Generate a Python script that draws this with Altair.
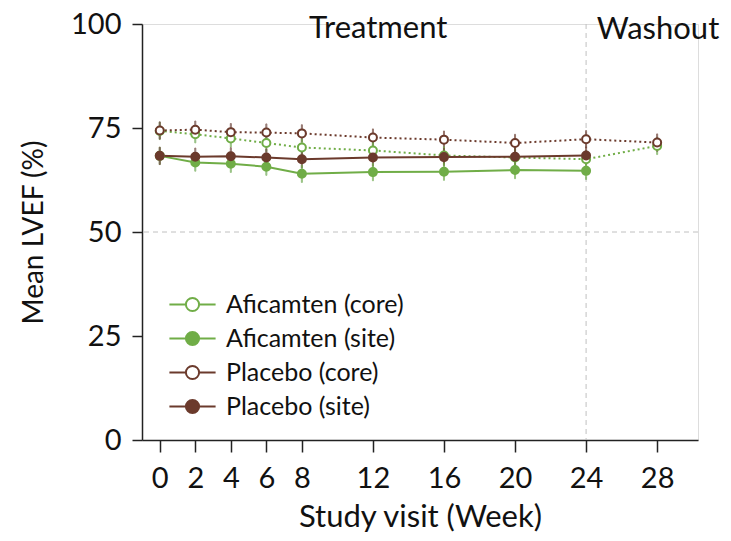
import altair as alt
import pandas as pd

weeks_all = [0, 2, 4, 6, 8, 12, 16, 20, 24, 28]
weeks_site = [0, 2, 4, 6, 8, 12, 16, 20, 24]

afi_core = [74.3, 73.5, 72.5, 71.4, 70.3, 69.6, 68.4, 67.9, 67.5, 70.7]
afi_core_err = [1.0, 1.0, 1.0, 1.0, 1.0, 1.0, 1.0, 1.0, 1.0, 1.0]
afi_site = [68.3, 66.7, 66.4, 65.7, 64.0, 64.4, 64.5, 64.9, 64.7]
afi_site_err = [1.0, 1.0, 1.0, 1.0, 1.0, 1.0, 1.0, 1.0, 1.0]
pla_core = [74.4, 74.6, 74.0, 73.9, 73.7, 72.7, 72.2, 71.4, 72.3, 71.5]
pla_core_err = [1.0, 1.0, 1.0, 1.0, 1.0, 1.0, 1.0, 1.0, 1.0, 1.0]
pla_site = [68.3, 68.1, 68.2, 67.9, 67.5, 67.9, 68.0, 68.1, 68.4]
pla_site_err = [1.0, 1.0, 1.0, 1.0, 1.0, 1.0, 1.0, 1.0, 1.0]

series_names = ["Aficamten (core)", "Aficamten (site)", "Placebo (core)", "Placebo (site)"]
series_kind = ["core", "site", "core", "site"]
stroke_colors = ["#70AD47", "#70AD47", "#6B3A2C", "#6B3A2C"]
fill_colors = ["#ffffff", "#70AD47", "#ffffff", "#6B3A2C"]

phase_labels = ["Treatment", "Washout"]
phase_x = [12.3, 28.05]
phase_y = [98.8, 98.5]

ref_y = [50]
ref_x = [24]

rows = []
for name, kind, wk, vals, errs in [
    (series_names[0], series_kind[0], weeks_all, afi_core, afi_core_err),
    (series_names[1], series_kind[1], weeks_site, afi_site, afi_site_err),
    (series_names[2], series_kind[2], weeks_all, pla_core, pla_core_err),
    (series_names[3], series_kind[3], weeks_site, pla_site, pla_site_err),
]:
    for w, v, e in zip(wk, vals, errs):
        rows.append({"series": name, "kind": kind, "week": w, "value": v,
                     "lo": v - e, "hi": v + e})
df = pd.DataFrame(rows)

FONT = "Lato"
GREY = "#c0c0c0"
INK = "#111111"

xscale = alt.Scale(domain=[-1, 30.3], nice=False, zero=False)
yscale = alt.Scale(domain=[0, 100], nice=False)

stroke_scale = alt.Scale(domain=series_names, range=stroke_colors)
fill_scale = alt.Scale(domain=series_names, range=fill_colors)

legend_path = ("M-2.1,0L-0.6,0M0.6,0L2.1,0M0.6,0A0.6,0.6,0,1,1,-0.6,0"
               "A0.6,0.6,0,1,1,0.6,0Z")

legend = alt.Legend(
    title=None, orient="none", legendX=38, legendY=268,
    symbolType=legend_path, symbolSize=484, symbolStrokeWidth=2,
    symbolOpacity=1, labelLimit=400,
    labelFont=FONT, labelFontSize=25, labelColor=INK,
    rowPadding=8, labelOffset=21, symbolOffset=0,
)

base = alt.Chart(df)

xaxis = alt.Axis(
    values=weeks_all, title="Study visit (Week)", titleFont=FONT, titleFontSize=31,
    titleFontWeight="normal", titleColor=INK, titlePadding=9,
    labelFont=FONT, labelFontSize=29, labelColor=INK, labelPadding=12,
    tickSize=12, tickColor="#222222", domainColor="#222222", grid=False,
    tickWidth=1.5, domainWidth=1.5,
)
yaxis = alt.Axis(
    values=[0, 25, 50, 75, 100], title="Mean LVEF (%)", titleFont=FONT,
    titleFontSize=28, titleFontWeight="normal", titleColor=INK, titlePadding=22,
    labelFont=FONT, labelFontSize=29, labelColor=INK, labelPadding=11,
    tickSize=10, tickColor="#222222", domainColor="#222222", grid=False,
    tickWidth=1.5, domainWidth=1.5,
)

hline = alt.Chart(pd.DataFrame({"y": ref_y})).mark_rule(
    color=GREY, strokeDash=[5, 4], strokeWidth=1
).encode(y=alt.Y("y:Q", scale=yscale, axis=yaxis))

vline = alt.Chart(pd.DataFrame({"x": ref_x})).mark_rule(
    color=GREY, strokeDash=[5, 4], strokeWidth=1
).encode(x=alt.X("x:Q", scale=xscale, axis=xaxis))

lines_core = base.transform_filter(alt.datum.kind == "core").mark_line(
    strokeWidth=2, strokeDash=[2, 3]
).encode(
    x=alt.X("week:Q", scale=xscale, axis=xaxis),
    y=alt.Y("value:Q", scale=yscale, axis=yaxis),
    stroke=alt.Stroke("series:N", scale=stroke_scale, legend=legend),
    detail="series:N",
)
lines_site = base.transform_filter(alt.datum.kind == "site").mark_line(
    strokeWidth=2
).encode(
    x="week:Q", y="value:Q",
    stroke=alt.Stroke("series:N", scale=stroke_scale, legend=legend),
    detail="series:N",
)

err = base.mark_rule(strokeWidth=2).encode(
    x="week:Q", y="lo:Q", y2="hi:Q",
    stroke=alt.Stroke("series:N", scale=stroke_scale, legend=legend),
)
cap_lo = base.mark_tick(thickness=1, size=9).encode(
    x="week:Q", y="lo:Q",
    stroke=alt.Stroke("series:N", scale=stroke_scale, legend=legend),
)
cap_hi = base.mark_tick(thickness=1, size=9).encode(
    x="week:Q", y="hi:Q",
    stroke=alt.Stroke("series:N", scale=stroke_scale, legend=legend),
)

points = base.mark_point(shape="circle", size=64, strokeWidth=2, opacity=1).encode(
    x="week:Q", y="value:Q",
    stroke=alt.Stroke("series:N", scale=stroke_scale, legend=legend),
    fill=alt.Fill("series:N", scale=fill_scale, legend=legend),
)

phase = alt.Chart(pd.DataFrame({"label": phase_labels, "x": phase_x, "y": phase_y})).mark_text(
    font=FONT, fontSize=31, color=INK, baseline="middle", align="center"
).encode(x="x:Q", y="y:Q", text="label:N")

chart = alt.layer(hline, vline, lines_core, lines_site, err, cap_lo, cap_hi, points, phase).properties(
    width=556, height=416,
    autosize=alt.AutoSizeParams(type="none"),
    padding={"left": 134, "top": 16, "right": 25, "bottom": 93},
).configure_view(stroke=None).configure(background="white")

chart.save("out.html", embed_options={"renderer": "svg", "actions": False})
